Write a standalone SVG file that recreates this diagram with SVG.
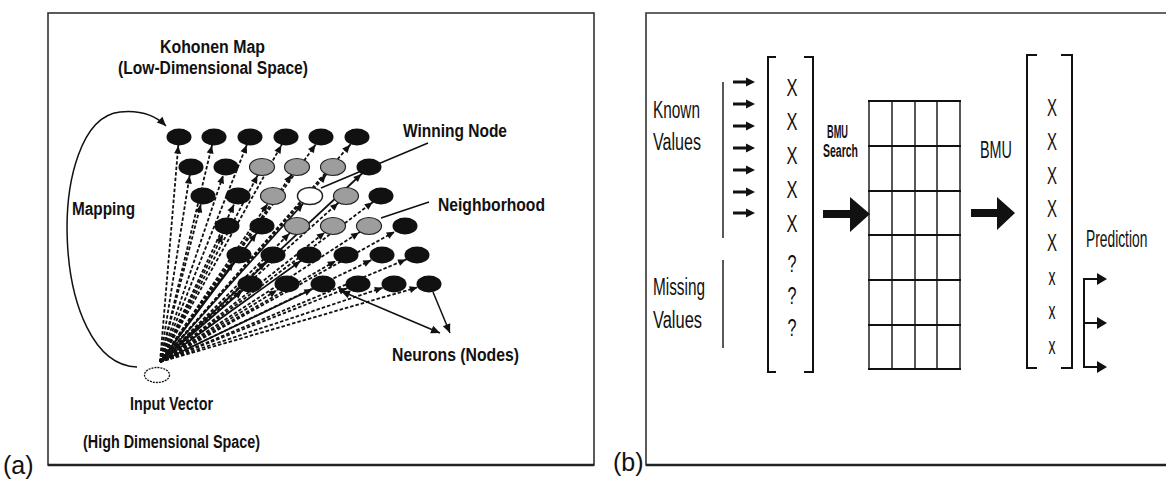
<svg xmlns="http://www.w3.org/2000/svg" width="1166" height="482" viewBox="0 0 1166 482">
  <style>
    .b { font-family: "Liberation Sans", Arial, sans-serif; font-weight: bold; font-size: 17.5px; fill: #111; }
    .r { font-family: "Liberation Sans", Arial, sans-serif; font-size: 23px; fill: #111; }
    .frame { fill: none; stroke: #333; stroke-width: 1.6; }
    .d { fill: none; stroke: #111; stroke-width: 1.8; stroke-dasharray: 3.5 2; }
    .s { fill: none; stroke: #111; stroke-width: 1.8; }
    .p { fill: none; stroke: #111; stroke-width: 1.5; }
    .blk { fill: #111; }
    .gry { fill: #9d9d9d; stroke: #222; stroke-width: 1.2; }
    .wht { fill: #fff; stroke: #222; stroke-width: 1.5; }
    .grid { fill: none; stroke: #111; }
    .brk { fill: none; stroke: #111; stroke-width: 2; }
  </style>
  <defs>
    <marker id="h9" markerUnits="userSpaceOnUse" markerWidth="8" markerHeight="7" refX="16.7" refY="3.5" orient="auto" overflow="visible"><path d="M0,0 L8,3.5 L0,7z" fill="#111"/></marker>
    <marker id="h10" markerUnits="userSpaceOnUse" markerWidth="8" markerHeight="7" refX="17.4" refY="3.5" orient="auto" overflow="visible"><path d="M0,0 L8,3.5 L0,7z" fill="#111"/></marker>
    <marker id="h11" markerUnits="userSpaceOnUse" markerWidth="8" markerHeight="7" refX="18.4" refY="3.5" orient="auto" overflow="visible"><path d="M0,0 L8,3.5 L0,7z" fill="#111"/></marker>
    <marker id="h12" markerUnits="userSpaceOnUse" markerWidth="8" markerHeight="7" refX="19.8" refY="3.5" orient="auto" overflow="visible"><path d="M0,0 L8,3.5 L0,7z" fill="#111"/></marker>
    <marker id="tip" markerUnits="userSpaceOnUse" markerWidth="9" markerHeight="8" refX="9" refY="4" orient="auto-start-reverse" overflow="visible"><path d="M0,0 L9,4 L0,8z" fill="#111"/></marker>
    <g id="sa"><line x1="0" y1="0" x2="15" y2="0" stroke="#111" stroke-width="3"/><path d="M13,-4.5 L22,0 L13,4.5z" fill="#111"/></g>
    <g id="pa"><line x1="0" y1="0" x2="14" y2="0" stroke="#111" stroke-width="2"/><path d="M13,-6 L23,0 L13,6z" fill="#111"/></g>
  </defs>

  <rect width="1166" height="482" fill="#fff"/>

  <!-- panel (a): Kohonen map -->
  <g id="panel-a">
    <rect class="frame" x="48" y="13" width="546" height="452"/>
    <line x1="48" y1="465" x2="594" y2="465" stroke="#222" stroke-width="2.4"/>
    <text x="3" y="474" font-family="Liberation Sans, Arial, sans-serif" font-size="25" fill="#111">(a)</text>
  </g>

  <!-- connectors: input vector to every neuron, plus pointers -->
  <g id="connectors">
    <path class="p" d="M137,367 C50,365 44,120 120,112 C140,110 155,115 166,126" marker-end="url(#tip)"/>
    <line class="p" x1="428" y1="143" x2="321" y2="188"/>
    <line class="p" x1="429" y1="202" x2="381" y2="218"/>
    <line class="p" x1="341" y1="291" x2="440" y2="333" marker-start="url(#tip)" marker-end="url(#tip)"/>
    <line class="p" x1="433" y1="292" x2="450" y2="333" marker-end="url(#tip)"/>

    <g>
      <line class="d" x1="160" y1="362" x2="179" y2="137" marker-end="url(#h9)"/>
      <line class="d" x1="160" y1="362" x2="214" y2="137" marker-end="url(#h9)"/>
      <line class="d" x1="160" y1="362" x2="250" y2="137" marker-end="url(#h9)"/>
      <line class="d" x1="160" y1="362" x2="286" y2="137" marker-end="url(#h10)"/>
      <line class="d" x1="160" y1="362" x2="321" y2="137" marker-end="url(#h10)"/>
      <line class="d" x1="160" y1="362" x2="357" y2="137" marker-end="url(#h11)"/>

      <line class="d" x1="160" y1="362" x2="191" y2="167" marker-end="url(#h9)"/>
      <line class="d" x1="160" y1="362" x2="226" y2="167" marker-end="url(#h9)"/>
      <line class="d" x1="160" y1="362" x2="262" y2="167" marker-end="url(#h10)"/>
      <line class="d" x1="160" y1="362" x2="297" y2="167" marker-end="url(#h10)"/>
      <line class="d" x1="160" y1="362" x2="333" y2="167" marker-end="url(#h11)"/>
      <line class="s" x1="160" y1="362" x2="369" y2="167" marker-end="url(#h11)"/>

      <line class="d" x1="160" y1="362" x2="203" y2="196" marker-end="url(#h9)"/>
      <line class="d" x1="160" y1="362" x2="238" y2="196" marker-end="url(#h10)"/>
      <line class="d" x1="160" y1="362" x2="273" y2="196" marker-end="url(#h10)"/>
      <line class="s" x1="160" y1="362" x2="310" y2="196" marker-end="url(#h11)"/>
      <line class="d" x1="160" y1="362" x2="346" y2="196" marker-end="url(#h11)"/>
      <line class="d" x1="160" y1="362" x2="381" y2="196" marker-end="url(#h11)"/>

      <line class="d" x1="160" y1="362" x2="227" y2="226" marker-end="url(#h10)"/>
      <line class="s" x1="160" y1="362" x2="262" y2="226" marker-end="url(#h10)"/>
      <line class="d" x1="160" y1="362" x2="297" y2="226" marker-end="url(#h11)"/>
      <line class="d" x1="160" y1="362" x2="333" y2="226" marker-end="url(#h11)"/>
      <line class="d" x1="160" y1="362" x2="369" y2="226" marker-end="url(#h12)"/>
      <line class="d" x1="160" y1="362" x2="405" y2="226" marker-end="url(#h12)"/>

      <line class="s" x1="160" y1="362" x2="239" y2="255" marker-end="url(#h10)"/>
      <line class="d" x1="160" y1="362" x2="273" y2="255" marker-end="url(#h11)"/>
      <line class="s" x1="160" y1="362" x2="309" y2="255" marker-end="url(#h11)"/>
      <line class="d" x1="160" y1="362" x2="346" y2="255" marker-end="url(#h12)"/>
      <line class="d" x1="160" y1="362" x2="382" y2="255" marker-end="url(#h12)"/>
      <line class="d" x1="160" y1="362" x2="417" y2="255" marker-end="url(#h12)"/>

      <line class="s" x1="160" y1="362" x2="250" y2="284" marker-end="url(#h11)"/>
      <line class="d" x1="160" y1="362" x2="287" y2="284" marker-end="url(#h12)"/>
      <line class="s" x1="160" y1="362" x2="323" y2="284" marker-end="url(#h12)"/>
      <line class="d" x1="160" y1="362" x2="358" y2="284" marker-end="url(#h12)"/>
      <line class="d" x1="160" y1="362" x2="394" y2="284" marker-end="url(#h12)"/>
      <line class="d" x1="160" y1="362" x2="429" y2="284" marker-end="url(#h12)"/>
    </g>
  </g>

  <!-- input vector -->
  <g id="input-vector">
    <ellipse cx="157" cy="375" rx="12.5" ry="7.5" fill="#fff" stroke="#111" stroke-width="1.3" stroke-dasharray="2 1"/>
    <text class="b" x="130" y="410" textLength="83" lengthAdjust="spacingAndGlyphs">Input Vector</text>
    <text class="b" x="83" y="448" textLength="177" lengthAdjust="spacingAndGlyphs">(High Dimensional Space)</text>
  </g>

  <!-- neuron lattice -->
  <g id="neurons">
    <ellipse class="blk" cx="179" cy="137" rx="12.5" ry="8.5"/>
    <ellipse class="blk" cx="214" cy="137" rx="12.5" ry="8.5"/>
    <ellipse class="blk" cx="250" cy="137" rx="12.5" ry="8.5"/>
    <ellipse class="blk" cx="286" cy="137" rx="12.5" ry="8.5"/>
    <ellipse class="blk" cx="321" cy="137" rx="12.5" ry="8.5"/>
    <ellipse class="blk" cx="357" cy="137" rx="12.5" ry="8.5"/>

    <ellipse class="blk" cx="191" cy="167" rx="12.5" ry="8.5"/>
    <ellipse class="blk" cx="226" cy="167" rx="12.5" ry="8.5"/>
    <ellipse class="gry" cx="262" cy="167" rx="12.5" ry="8.5"/>
    <ellipse class="gry" cx="297" cy="167" rx="12.5" ry="8.5"/>
    <ellipse class="gry" cx="333" cy="167" rx="12.5" ry="8.5"/>
    <ellipse class="blk" cx="369" cy="167" rx="12.5" ry="8.5"/>

    <ellipse class="blk" cx="203" cy="196" rx="12.5" ry="8.5"/>
    <ellipse class="blk" cx="238" cy="196" rx="12.5" ry="8.5"/>
    <ellipse class="gry" cx="273" cy="196" rx="12.5" ry="8.5"/>
    <ellipse class="wht" cx="310" cy="196" rx="12.5" ry="8.5"/>
    <ellipse class="gry" cx="346" cy="196" rx="12.5" ry="8.5"/>
    <ellipse class="blk" cx="381" cy="196" rx="12.5" ry="8.5"/>

    <ellipse class="blk" cx="227" cy="226" rx="12.5" ry="8.5"/>
    <ellipse class="blk" cx="262" cy="226" rx="12.5" ry="8.5"/>
    <ellipse class="gry" cx="297" cy="226" rx="12.5" ry="8.5"/>
    <ellipse class="gry" cx="333" cy="226" rx="12.5" ry="8.5"/>
    <ellipse class="gry" cx="369" cy="226" rx="12.5" ry="8.5"/>
    <ellipse class="blk" cx="405" cy="226" rx="12.5" ry="8.5"/>

    <ellipse class="blk" cx="239" cy="255" rx="12.5" ry="8.5"/>
    <ellipse class="blk" cx="273" cy="255" rx="12.5" ry="8.5"/>
    <ellipse class="blk" cx="309" cy="255" rx="12.5" ry="8.5"/>
    <ellipse class="blk" cx="346" cy="255" rx="12.5" ry="8.5"/>
    <ellipse class="blk" cx="382" cy="255" rx="12.5" ry="8.5"/>
    <ellipse class="blk" cx="417" cy="255" rx="12.5" ry="8.5"/>

    <ellipse class="blk" cx="250" cy="284" rx="12.5" ry="8.5"/>
    <ellipse class="blk" cx="287" cy="284" rx="12.5" ry="8.5"/>
    <ellipse class="blk" cx="323" cy="284" rx="12.5" ry="8.5"/>
    <ellipse class="blk" cx="358" cy="284" rx="12.5" ry="8.5"/>
    <ellipse class="blk" cx="394" cy="284" rx="12.5" ry="8.5"/>
    <ellipse class="blk" cx="429" cy="284" rx="12.5" ry="8.5"/>
  </g>

  <!-- labels of panel (a) -->
  <g id="labels-a">
    <text class="b" x="160" y="53" textLength="105" lengthAdjust="spacingAndGlyphs">Kohonen Map</text>
    <text class="b" x="118" y="74" textLength="190" lengthAdjust="spacingAndGlyphs">(Low-Dimensional Space)</text>
    <text class="b" x="403" y="137" textLength="104" lengthAdjust="spacingAndGlyphs">Winning Node</text>
    <text class="b" x="438" y="211" textLength="107" lengthAdjust="spacingAndGlyphs">Neighborhood</text>
    <text class="b" x="72" y="215" textLength="63" lengthAdjust="spacingAndGlyphs">Mapping</text>
    <text class="b" x="392" y="361" textLength="127" lengthAdjust="spacingAndGlyphs">Neurons (Nodes)</text>
  </g>

  <!-- panel (b): BMU based prediction -->
  <g id="panel-b">
    <path class="frame" d="M1170,13 H646 V465 H1170"/>
    <line x1="646" y1="465" x2="1166" y2="465" stroke="#222" stroke-width="2.6"/>
    <text x="613" y="471" font-family="Liberation Sans, Arial, sans-serif" font-size="25" fill="#111">(b)</text>
  </g>

  <g id="input-record">
    <text class="r" x="653" y="118" textLength="47" lengthAdjust="spacingAndGlyphs">Known</text>
    <text class="r" x="653" y="150" textLength="48" lengthAdjust="spacingAndGlyphs">Values</text>
    <text class="r" x="653" y="295" textLength="52" lengthAdjust="spacingAndGlyphs">Missing</text>
    <text class="r" x="653" y="328" textLength="49" lengthAdjust="spacingAndGlyphs">Values</text>
    <line x1="723" y1="82" x2="723" y2="238" stroke="#222" stroke-width="1.5"/>
    <line x1="723" y1="260" x2="723" y2="348" stroke="#222" stroke-width="1.5"/>
    <use href="#sa" x="733" y="82"/>
    <use href="#sa" x="733" y="104"/>
    <use href="#sa" x="733" y="126"/>
    <use href="#sa" x="733" y="148"/>
    <use href="#sa" x="733" y="170"/>
    <use href="#sa" x="733" y="192"/>
    <use href="#sa" x="733" y="213"/>
    <path class="brk" d="M776,57 H768 V372 H776 M804,57 H813 V372 H804"/>
    <g class="r" font-size="29" text-anchor="middle">
      <text x="792" y="96" textLength="11" lengthAdjust="spacingAndGlyphs">X</text>
      <text x="792" y="130" textLength="11" lengthAdjust="spacingAndGlyphs">X</text>
      <text x="792" y="164" textLength="11" lengthAdjust="spacingAndGlyphs">X</text>
      <text x="792" y="198" textLength="11" lengthAdjust="spacingAndGlyphs">X</text>
      <text x="792" y="232" textLength="11" lengthAdjust="spacingAndGlyphs">X</text>
      <text x="792" y="272" textLength="9" lengthAdjust="spacingAndGlyphs">?</text>
      <text x="792" y="304" textLength="9" lengthAdjust="spacingAndGlyphs">?</text>
      <text x="792" y="336" textLength="9" lengthAdjust="spacingAndGlyphs">?</text>
    </g>
  </g>

  <g id="bmu-search">
    <text class="b" font-size="13" x="827" y="138" textLength="21" lengthAdjust="spacingAndGlyphs">BMU</text>
    <text class="b" font-size="13" x="823" y="157" textLength="35" lengthAdjust="spacingAndGlyphs">Search</text>
    <path d="M823,210 H850 V197 L870,214 L850,232 V218 H823 Z" fill="#111"/>
  </g>

  <g id="som-grid">
    <g class="grid" stroke-width="1.4">
      <line x1="869" y1="101" x2="869" y2="369"/>
      <line x1="892" y1="101" x2="892" y2="369"/>
      <line x1="915" y1="101" x2="915" y2="369"/>
      <line x1="937" y1="101" x2="937" y2="369"/>
      <line x1="960" y1="101" x2="960" y2="369"/>
    </g>
    <g class="grid" stroke-width="2">
      <line x1="868" y1="101" x2="961" y2="101"/>
      <line x1="868" y1="146" x2="961" y2="146"/>
      <line x1="868" y1="191" x2="961" y2="191"/>
      <line x1="868" y1="235" x2="961" y2="235"/>
      <line x1="868" y1="280" x2="961" y2="280"/>
      <line x1="868" y1="325" x2="961" y2="325"/>
      <line x1="868" y1="369" x2="961" y2="369"/>
    </g>
  </g>

  <g id="bmu-output">
    <text class="r" font-size="24" x="980" y="158" textLength="32" lengthAdjust="spacingAndGlyphs">BMU</text>
    <path d="M971,209 H997 V197 L1015,213 L997,230 V217 H971 Z" fill="#111"/>
    <path class="brk" d="M1037,55 H1027 V368 H1037 M1061,55 H1072 V368 H1061"/>
    <g class="r" font-size="25" text-anchor="middle">
      <text x="1052" y="116" textLength="10" lengthAdjust="spacingAndGlyphs">X</text>
      <text x="1052" y="150" textLength="10" lengthAdjust="spacingAndGlyphs">X</text>
      <text x="1052" y="184" textLength="10" lengthAdjust="spacingAndGlyphs">X</text>
      <text x="1052" y="217" textLength="10" lengthAdjust="spacingAndGlyphs">X</text>
      <text x="1052" y="251" textLength="10" lengthAdjust="spacingAndGlyphs">X</text>
      <text x="1052" y="285" textLength="7" lengthAdjust="spacingAndGlyphs">x</text>
      <text x="1052" y="319" textLength="7" lengthAdjust="spacingAndGlyphs">x</text>
      <text x="1052" y="354" textLength="7" lengthAdjust="spacingAndGlyphs">x</text>
    </g>
  </g>

  <g id="prediction">
    <text class="r" font-size="22" transform="translate(1086 247) scale(0.6 1)">Prediction</text>
    <line x1="1084" y1="278" x2="1084" y2="368" stroke="#111" stroke-width="2"/>
    <use href="#pa" x="1084" y="279"/>
    <use href="#pa" x="1084" y="323"/>
    <use href="#pa" x="1084" y="367"/>
  </g>
</svg>
